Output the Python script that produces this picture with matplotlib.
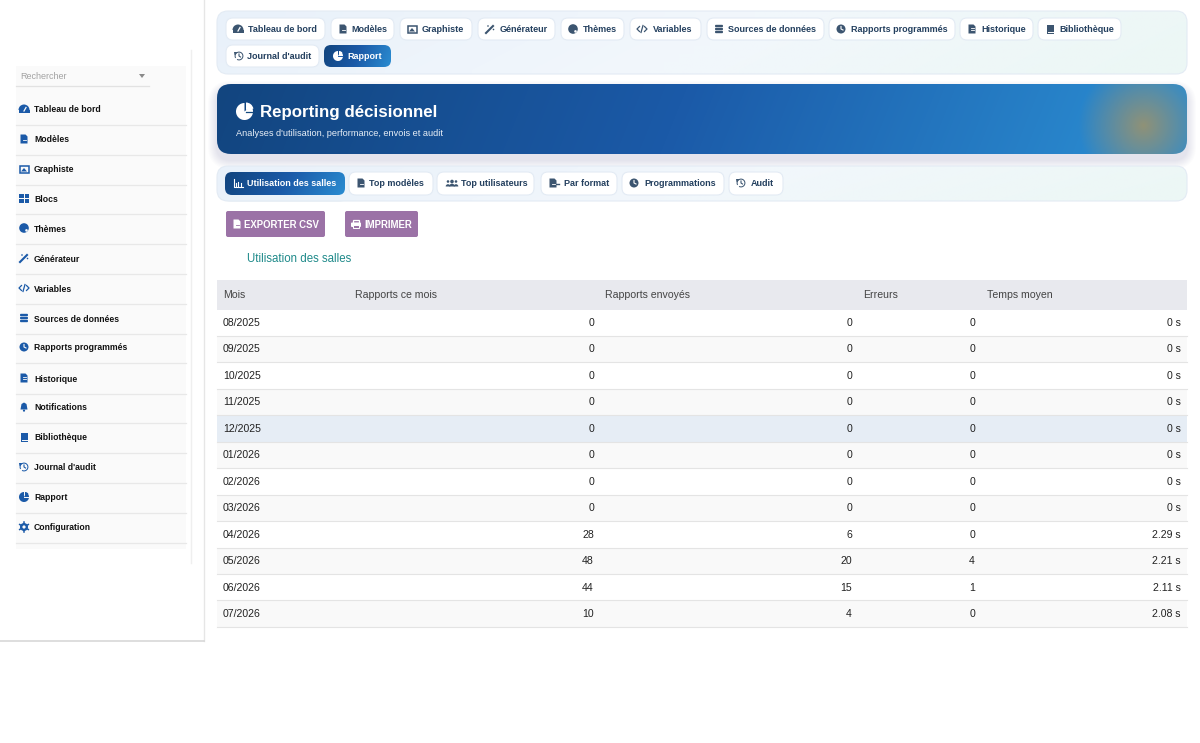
"""Reporting décisionnel admin page, drawn on a pixel grid."""
import matplotlib
matplotlib.use('Agg')
import matplotlib.pyplot as plt
import numpy as np
from matplotlib.colors import LinearSegmentedColormap
from matplotlib.patches import Circle, FancyBboxPatch, Polygon, Rectangle, Wedge

plt.rcParams['font.family'] = ['Liberation Sans', 'DejaVu Sans']

# ---- data
months = ['08/2025', '09/2025', '10/2025', '11/2025', '12/2025', '01/2026',
          '02/2026', '03/2026', '04/2026', '05/2026', '06/2026', '07/2026']
rapports_mois = [0, 0, 0, 0, 0, 0, 0, 0, 28, 48, 44, 10]
rapports_envoyes = [0, 0, 0, 0, 0, 0, 0, 0, 6, 20, 15, 4]
erreurs = [0, 0, 0, 0, 0, 0, 0, 0, 0, 4, 1, 0]
temps_moyen = ['0 s', '0 s', '0 s', '0 s', '0 s', '0 s', '0 s', '0 s',
               '2.29 s', '2.21 s', '2.11 s', '2.08 s']
columns = ['Mois', 'Rapports ce mois', 'Rapports envoyés', 'Erreurs', 'Temps moyen']

side_labels = ['Tableau de bord', 'Modèles', 'Graphiste', 'Blocs', 'Thèmes',
               'Générateur', 'Variables', 'Sources de données',
               'Rapports programmés', 'Historique', 'Notifications',
               'Bibliothèque', "Journal d'audit", 'Rapport', 'Configuration']
side_icons = ['gauge', 'file', 'image', 'grid', 'palette', 'wand', 'code', 'db',
              'clock', 'doc', 'bell', 'book', 'history', 'pie', 'gear']
side_y = [109, 139, 169, 198, 228, 258, 288, 318, 347, 378, 407, 437, 467, 497, 527]

top_tabs = [('Tableau de bord', 'gauge', 226, 325, 18, 22), ('Modèles', 'file', 331, 394, 18, 20),
            ('Graphiste', 'image', 400, 472, 18, 22), ('Générateur', 'wand', 478, 555, 18, 22),
            ('Thèmes', 'palette', 561, 624, 18, 22), ('Variables', 'code', 630, 701, 18, 23),
            ('Sources de données', 'db', 707, 824, 18, 21),
            ('Rapports programmés', 'clock', 829, 955, 18, 22),
            ('Historique', 'doc', 960, 1033, 18, 21), ('Bibliothèque', 'book', 1038, 1121, 18, 21),
            ("Journal d'audit", 'history', 226, 319, 45, 21)]
sub_tabs = [('Top modèles', 'file', 349, 433, 20), ('Top utilisateurs', 'users', 437, 534, 24),
            ('Par format', 'export', 541, 617, 23), ('Programmations', 'clock', 622, 724, 22),
            ('Audit', 'history', 729, 783, 22)]

# ---- colours
TAB_TEXT, SIDE_BLUE = '#24405f', '#1b5aa8'
BORDER, PURPLE, TEAL = '#e3ebf4', '#9b72a6', '#1f8a8a'
BTN_CMAP = LinearSegmentedColormap.from_list('btn', ['#12457f', '#1b5aa8', '#2a8bd0'])

fig = plt.figure(figsize=(12, 7.43), dpi=100)
ax = fig.add_axes([0, 0, 1, 1])
ax.axis('off')


def label(x, y, s, fs, **kw):
    ax.text(x, y, s, fontsize=fs, va='center_baseline', zorder=6, **kw)


def rbox(x0, y0, x1, y1, r, **kw):
    box = FancyBboxPatch((x0 + r, y0 + r), x1 - x0 - 2 * r, y1 - y0 - 2 * r,
                         boxstyle=f'round,pad={r},rounding_size={r}',
                         mutation_aspect=1, **kw)
    ax.add_patch(box)
    return box


def shadow(x0, y0, x1, y1, r, color, dy=3, spread=8, alpha=0.012):
    for s in range(spread, 0, -1):
        rbox(x0 - s, y0 - s + dy, x1 + s, y1 + s + dy, r + s,
             fc=color, ec='none', alpha=alpha, zorder=1)


def gradient_box(x0, y0, x1, y1, r, rgb, zorder=2):
    im = ax.imshow(rgb, extent=(x0, x1, y1, y0), aspect='auto',
                   interpolation='bilinear', zorder=zorder)
    clip = rbox(x0, y0, x1, y1, r, fc='none', ec='none', zorder=zorder)
    im.set_clip_path(clip)


def diag(w, h, cmap=BTN_CMAP):
    xx, yy = np.meshgrid(np.linspace(0, 1, w), np.linspace(0, 1, h))
    return cmap(np.clip(xx * 0.9 + yy * 0.1, 0, 1))[:, :, :3]


def icon(kind, x, y, c, bg='white', z=6):
    """Small icon centred on x, y, about 9 px wide."""
    P = lambda p: ax.add_patch(p)
    if kind == 'gauge':
        P(Wedge((x, y + 1), 5.5, 180, 360, fc=c, ec='none', zorder=z))
        P(Rectangle((x - 5.5, y + 1), 11, 3, fc=c, ec='none', zorder=z))
        ax.plot([x, x + 2], [y + 2, y - 1.5], color=bg, lw=0.9, zorder=z + 1)
    elif kind in ('file', 'doc', 'export'):
        P(Polygon([(x - 3.5, y - 4.5), (x + 1.5, y - 4.5), (x + 3.5, y - 2.5),
                   (x + 3.5, y + 4.5), (x - 3.5, y + 4.5)], fc=c, ec='none', zorder=z))
        ax.plot([x - 1.5, x + 1.5], [y + 1, y + 1], color=bg, lw=0.6, zorder=z + 1)
        if kind == 'doc':
            ax.plot([x - 1.5, x + 1.5], [y - 1, y - 1], color=bg, lw=0.6, zorder=z + 1)
        if kind == 'export':
            ax.plot([x + 3, x + 6], [y + 1, y + 1], color=c, lw=1, zorder=z)
    elif kind == 'image':
        P(Rectangle((x - 4.5, y - 3.5), 9, 7, fc='none', ec=c, lw=1.1, zorder=z))
        P(Polygon([(x - 3, y + 2.5), (x, y - 1), (x + 3, y + 2.5)], fc=c, ec='none', zorder=z))
    elif kind == 'grid':
        for dx in (-5, 0.5):
            for dy in (-4.5, 0.5):
                P(Rectangle((x + dx, y + dy), 4.5, 4, fc=c, ec='none', zorder=z))
    elif kind == 'palette':
        P(Circle((x, y), 4.8, fc=c, ec='none', zorder=z))
        P(Circle((x + 2.5, y + 2.4), 1.3, fc=bg, ec='none', zorder=z + 1))
    elif kind == 'wand':
        ax.plot([x - 4, x + 3], [y + 4, y - 3], color=c, lw=1.5, zorder=z)
        P(Circle((x + 3.5, y + 0.5), 0.8, fc=c, ec='none', zorder=z))
        P(Circle((x - 2, y - 3), 0.8, fc=c, ec='none', zorder=z))
    elif kind == 'code':
        ax.plot([x - 2.5, x - 5, x - 2.5], [y - 2.5, y, y + 2.5], color=c, lw=0.9, zorder=z)
        ax.plot([x + 2.5, x + 5, x + 2.5], [y - 2.5, y, y + 2.5], color=c, lw=0.9, zorder=z)
        ax.plot([x - 1, x + 1], [y + 3.5, y - 3.5], color=c, lw=0.9, zorder=z)
    elif kind == 'db':
        for dy in (-3, 0, 3):
            rbox(x - 4, y + dy - 1.2, x + 4, y + dy + 1.2, 1, fc=c, ec='none', zorder=z)
    elif kind == 'clock':
        P(Circle((x, y), 4.5, fc=c, ec='none', zorder=z))
        ax.plot([x, x, x + 2], [y - 2.5, y, y + 1], color=bg, lw=0.8, zorder=z + 1)
    elif kind == 'bell':
        P(Polygon([(x - 3.5, y + 2.5), (x - 2.5, y - 3), (x, y - 4.5), (x + 2.5, y - 3),
                   (x + 3.5, y + 2.5)], fc=c, ec='none', zorder=z))
        P(Circle((x, y + 3.6), 1.1, fc=c, ec='none', zorder=z))
    elif kind == 'book':
        P(Rectangle((x - 3.5, y - 4.5), 7.5, 9, fc=c, ec='none', zorder=z))
        ax.plot([x - 2.5, x + 3.5], [y + 2.8, y + 2.8], color=bg, lw=0.7, zorder=z + 1)
    elif kind == 'history':
        P(Wedge((x, y), 4.4, 150, 480, width=1, fc=c, ec='none', zorder=z))
        P(Polygon([(x - 5, y - 4), (x - 1.5, y - 4), (x - 4.5, y - 0.8)], fc=c, ec='none', zorder=z))
        ax.plot([x, x, x + 1.5], [y - 2, y, y + 1], color=c, lw=0.8, zorder=z)
    elif kind == 'pie':
        P(Wedge((x, y), 5, -60, 270, fc=c, ec='none', zorder=z))
        P(Wedge((x + 1, y - 1), 4, 270, 330, fc=c, ec='none', zorder=z))
        ax.plot([x, x + 5], [y + 0.3, y + 0.3], color=bg, lw=0.7, zorder=z + 1)
    elif kind == 'gear':
        P(Circle((x, y), 4, fc=c, ec='none', zorder=z))
        for a in np.deg2rad([30, 90, 150]):
            ax.plot([x - 5 * np.cos(a), x + 5 * np.cos(a)], [y - 5 * np.sin(a), y + 5 * np.sin(a)],
                    color=c, lw=1.1, zorder=z)
        P(Circle((x, y), 1.6, fc=bg, ec='none', zorder=z + 1))
    elif kind == 'users':
        for dx, r in ((-4, 1.3), (4, 1.3), (0, 1.8)):
            P(Circle((x + dx, y - 1.5), r, fc=c, ec='none', zorder=z))
            P(Wedge((x + dx, y + 3.5), r + 1, 180, 360, fc=c, ec='none', zorder=z))
    elif kind == 'chart':
        ax.plot([x - 4.5, x - 4.5, x + 4.5], [y - 4, y + 3.5, y + 3.5], color=c, lw=0.8, zorder=z)
        for dx, h in ((-2.2, 2.5), (0.3, 4), (2.8, 3)):
            ax.plot([x + dx, x + dx], [y + 2.5, y + 2.5 - h], color=c, lw=0.8, zorder=z)
    elif kind == 'print':
        rbox(x - 5, y - 1.5, x + 5, y + 3, 1, fc=c, ec='none', zorder=z)
        P(Rectangle((x - 3, y - 4.5), 6, 3, fc='none', ec=c, lw=0.9, zorder=z))
        P(Rectangle((x - 3, y + 1), 6, 3, fc=bg, ec=c, lw=0.7, zorder=z + 1))


# ---- sidebar
ax.plot([204, 204], [0, 641], color='#e6e6e6', lw=1, zorder=2)
ax.plot([0, 204], [641, 641], color='#d4d4d4', lw=1.1, zorder=2)
ax.add_patch(Rectangle((16, 66), 170, 483, fc='#fafafa', ec='none', zorder=1))
ax.plot([190.5, 190.5], [50, 563], color='#efefef', lw=1, zorder=2)
label(20, 75.5, 'Rechercher', 6.5, color='#a2a2a2')
ax.add_patch(Polygon([(139, 74), (145, 74), (142, 78)], fc='#8a8a8a', ec='none', zorder=5))
ax.plot([16, 149], [85.5, 85.5], color='#e2e2e2', lw=0.9, zorder=5)
for name, kind, y in zip(side_labels, side_icons, side_y):
    icon(kind, 24, y, SIDE_BLUE, bg='#fafafa')
    label(34, y, name, 6.2, fontweight='bold', color='#111111')
    ax.plot([16, 186], [y + 15.5, y + 15.5], color='#e8e8e8', lw=0.9, zorder=3)

# ---- top tabs panel
panel_cmap = LinearSegmentedColormap.from_list('panel', ['#e9f1fa', '#f2f7fc', '#ecf7f5'])
gradient_box(217, 11, 1187, 74, 11, diag(64, 8, panel_cmap))
rbox(217, 11, 1187, 74, 11, fc='none', ec=BORDER, lw=0.8, zorder=3)
for name, kind, x0, x1, y0, dx in top_tabs:
    rbox(x0, y0, x1, y0 + 22, 7, fc='white', ec=BORDER, lw=0.8, zorder=4)
    icon(kind, x0 + 12 if kind != 'history' else x0 + 13, y0 + 11, '#3c5570')
    label(x0 + dx, y0 + 10.7, name, 6.5, fontweight='bold', color=TAB_TEXT)
shadow(324, 45, 391, 67, 7, '#12457f', dy=2, spread=5, alpha=0.05)
gradient_box(324, 45, 391, 67, 7, diag(64, 8), zorder=4)
icon('pie', 338, 56, 'white', bg='#1b5aa8')
label(347, 55.7, 'Rapport', 6.5, fontweight='bold', color='white')

# ---- hero banner
shadow(217, 84, 1187, 154, 14, '#12355f', dy=6, spread=9, alpha=0.012)
w, h = 970, 70
xx, yy = np.meshgrid(np.arange(w) + 217.0, np.arange(h) + 84.0)
hero = BTN_CMAP(np.clip((xx - 217) / 970 * 1.03 + (yy - 84) / 70 * 0.03, 0, 1))[:, :, :3]
glow = np.clip(1 - np.hypot(xx - 1143, yy - 125) / 65, 0, 1)[:, :, None] * 0.72
hero = hero * (1 - glow) + np.array([0.72, 0.58, 0.33]) * glow
gradient_box(217, 84, 1187, 154, 14, hero)
ax.add_patch(Wedge((244.5, 111.5), 8.5, -40, 270, fc='white', ec='none', zorder=6))
ax.add_patch(Wedge((246, 110), 7.5, 270, 350, fc='white', ec='none', zorder=6))
ax.plot([246, 253], [111.5, 111.5], color='#14497f', lw=0.9, zorder=7)
label(260, 111, 'Reporting décisionnel', 12.2, fontweight='bold', color='white')
label(236, 132, "Analyses d'utilisation, performance, envois et audit", 6.6, color='#e8eff7')

# ---- sub tabs panel
gradient_box(217, 166, 1187, 201, 11, diag(64, 8, panel_cmap))
rbox(217, 166, 1187, 201, 11, fc='none', ec=BORDER, lw=0.8, zorder=3)
shadow(225, 172, 345, 195, 7, '#12457f', dy=2, spread=5, alpha=0.05)
gradient_box(225, 172, 345, 195, 7, diag(64, 8), zorder=4)
icon('chart', 238, 183, 'white', bg='#12457f')
label(247, 182.7, 'Utilisation des salles', 6.5, fontweight='bold', color='white')
for name, kind, x0, x1, dx in sub_tabs:
    rbox(x0, 172, x1, 195, 7, fc='white', ec=BORDER, lw=0.8, zorder=4)
    icon(kind, x0 + (12 if kind != 'users' else 15), 183, '#3c5570')
    label(x0 + dx, 182.7, name, 6.5, fontweight='bold', color=TAB_TEXT)

# ---- buttons
rbox(226, 211, 325, 237, 2, fc=PURPLE, ec='none', zorder=4)
rbox(345, 211, 418, 237, 2, fc=PURPLE, ec='none', zorder=4)
icon('file', 237, 224, 'white', bg=PURPLE)
icon('print', 356, 224, 'white', bg=PURPLE)
label(244, 224, 'EXPORTER CSV', 6.9, fontweight='bold', color='white')
label(364, 224, 'IMPRIMER', 6.9, fontweight='bold', color='white')
label(247, 258, 'Utilisation des salles', 8.3, color=TEAL)

# ---- table
ax.add_patch(Rectangle((217, 280), 970, 29.5, fc='#e8e9ee', ec='none', zorder=2))
for name, x in zip(columns, [223, 355, 605, 863, 987]):
    label(x, 294.5, name, 7.6, color='#444444')

row_h = 26.45
for i, month in enumerate(months):
    y0 = 309.5 + i * row_h
    fill = '#e6edf5' if month == '12/2025' else ('#f9f9f9' if i % 2 else 'white')
    ax.add_patch(Rectangle((217, y0), 970, row_h, fc=fill, ec='none', zorder=2))
    ax.plot([217, 1187], [y0 + row_h, y0 + row_h], color='#e4e4e4', lw=0.8, zorder=3)
    yc = y0 + row_h / 2 - 0.7
    label(223, yc, month, 7.6, color='#222222')
    label(594, yc, str(rapports_mois[i]), 7.6, color='#222222', ha='right')
    label(852, yc, str(rapports_envoyes[i]), 7.6, color='#222222', ha='right')
    label(975, yc, str(erreurs[i]), 7.6, color='#222222', ha='right')
    label(1181, yc, temps_moyen[i], 7.6, color='#222222', ha='right')

ax.set_xlim(0, 1200)
ax.set_ylim(743, 0)
fig.savefig('out.png', dpi=100, facecolor='white')
